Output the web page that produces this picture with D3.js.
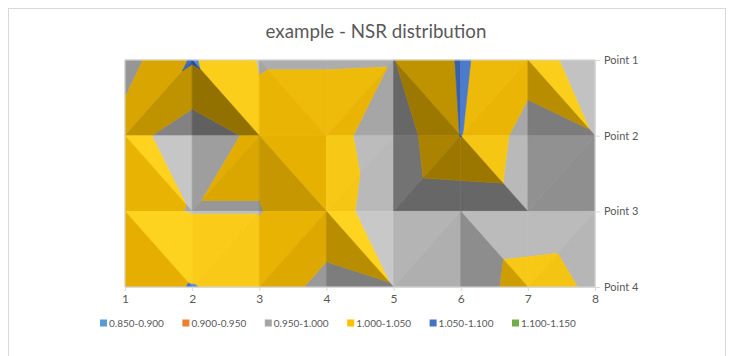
<!DOCTYPE html>
<html>
<head>
<meta charset="utf-8">
<script src="https://cdn.jsdelivr.net/npm/d3@7"></script>
<style>
  html, body { margin: 0; padding: 0; background: #fff; }
  svg { display: block; font-family: Lato, "Open Sans", "Liberation Sans", sans-serif; }
</style>
</head>
<body>
<svg id="chart" width="734" height="356"></svg>
<script>
// Surface grid: one row of NSR values per measuring point, one value per column 1..8
const columns = [1, 2, 3, 4, 5, 6, 7, 8];
const rowLabels = ["Point 1", "Point 2", "Point 3", "Point 4"];
const point1 = [0.980, 1.055, 0.997, 0.997, 0.998, 1.055, 1.022, 0.975];
const point2 = [1.020, 0.970, 1.012, 1.020, 0.970, 1.051, 0.980, 0.998];
const point3 = [1.015, 0.998, 0.998, 1.030, 0.960, 0.965, 0.970, 0.975];
const point4 = [1.030, 1.052, 1.030, 0.985, 0.998, 0.972, 1.020, 0.993];

// Colour bands of the contour legend
const bandLabels = ["0.850-0.900", "0.900-0.950", "0.950-1.000", "1.000-1.050", "1.050-1.100", "1.100-1.150"];
const bandLower = [0.85, 0.90, 0.95, 1.00, 1.05, 1.10];
const bandUpper = [0.90, 0.95, 1.00, 1.05, 1.10, 1.15];
const bandColors = ["#5B9BD5", "#ED7D31", "#A5A5A5", "#FFC000", "#4472C4", "#70AD47"];

// Lit shades of each band colour: facing away from the light, flat, facing the light
const shadeRamps = [
  ["#2E5F8F", "#5B9BD5", "#8DBBE6"],
  ["#9A4A14", "#ED7D31", "#F5A66E"],
  ["#606060", "#A0A0A0", "#C8C8C8"],
  ["#937100", "#E6AF00", "#FFD420"],
  ["#2A4A8A", "#4472C4", "#5F8FE0"],
  ["#46702A", "#70AD47", "#9ACD78"]
];

const grid = [point1, point2, point3, point4];

const svg = d3.select("#chart");

// chart area frame
svg.append("rect")
  .attr("x", 8.5).attr("y", 8.5)
  .attr("width", 717).attr("height", 400)
  .attr("fill", "#fff").attr("stroke", "#D9D9D9");

// title
const title = svg.append("text")
  .attr("x", 376).attr("y", 38)
  .attr("text-anchor", "middle")
  .attr("fill", "#595959")
  .attr("font-size", 17)
  .text("example - NSR distribution");
(function fit() {
  const target = 221;
  const len = title.node().getComputedTextLength();
  if (len > 0) title.attr("font-size", 17 * target / len);
})();

const x = d3.scaleLinear().domain([1, 8]).range([125, 595]);
const y = d3.scaleLinear().domain([0, rowLabels.length - 1]).range([60, 287]);

const line = d3.line()
  .x(p => x(p.c))
  .y(p => y(p.r))
  .curve(d3.curveLinearClosed);

// clip a polygon (in grid space, linear z) to one side of a level
function clip(poly, level, keepAbove) {
  const out = [];
  const n = poly.length;
  for (let i = 0; i < n; i++) {
    const a = poly[i], b = poly[(i + 1) % n];
    const da = keepAbove ? a.z - level : level - a.z;
    const db = keepAbove ? b.z - level : level - b.z;
    if (da >= 0) out.push(a);
    if ((da >= 0) !== (db >= 0)) {
      const t = da / (da - db);
      out.push({ c: a.c + t * (b.c - a.c), r: a.r + t * (b.r - a.r), z: a.z + t * (b.z - a.z) });
    }
  }
  return out;
}

// plane slope of a triangle: dz per column (gx) and per row (gy)
function slope(t) {
  const [p0, p1, p2] = t;
  const ax = p1.c - p0.c, ay = p1.r - p0.r, az = p1.z - p0.z;
  const bx = p2.c - p0.c, by = p2.r - p0.r, bz = p2.z - p0.z;
  const nx = ay * bz - az * by;
  const ny = az * bx - ax * bz;
  const nz = ax * by - ay * bx;
  return { gx: -nx / nz, gy: -ny / nz };
}

const shadeScales = shadeRamps.map(r =>
  d3.scaleLinear().domain([-0.8, 0, 0.55]).range(r).interpolate(d3.interpolateRgb).clamp(true));

// each grid cell is split along its higher diagonal (the ridge)
const triangles = [];
for (let r = 0; r < grid.length - 1; r++) {
  for (let ci = 0; ci < columns.length - 1; ci++) {
    const TL = { c: columns[ci], r: r, z: grid[r][ci] };
    const TR = { c: columns[ci + 1], r: r, z: grid[r][ci + 1] };
    const BL = { c: columns[ci], r: r + 1, z: grid[r + 1][ci] };
    const BR = { c: columns[ci + 1], r: r + 1, z: grid[r + 1][ci + 1] };
    if (TL.z + BR.z >= TR.z + BL.z) {
      triangles.push([TL, TR, BR]);
      triangles.push([TL, BR, BL]);
    } else {
      triangles.push([TL, TR, BL]);
      triangles.push([TR, BR, BL]);
    }
  }
}

const surface = svg.append("g").attr("class", "surface");
triangles.forEach(t => {
  const { gx, gy } = slope(t);
  const light = 6 * (-gx) + 8 * gy;
  bandLower.forEach((lo, b) => {
    let poly = clip(t, lo, true);
    if (poly.length < 3) return;
    poly = clip(poly, bandUpper[b], false);
    if (poly.length < 3) return;
    const col = shadeScales[b](light);
    surface.append("path")
      .attr("d", line(poly))
      .attr("fill", col)
      .attr("stroke", col)
      .attr("stroke-width", 0.6)
      .attr("stroke-linejoin", "round");
  });
});

// plot frame
svg.append("rect")
  .attr("x", x(1)).attr("y", y(0))
  .attr("width", x(8) - x(1)).attr("height", y(3) - y(0))
  .attr("fill", "none").attr("stroke", "#D9D9D9").attr("stroke-width", 1);

// bottom axis
const xAxis = svg.append("g")
  .attr("transform", `translate(0,${y(3)})`)
  .call(d3.axisBottom(x).tickValues(columns).tickFormat(d3.format("d"))
    .tickSize(4).tickSizeOuter(0).tickPadding(3));
xAxis.select(".domain").attr("stroke", "#D9D9D9");
xAxis.selectAll(".tick line").attr("stroke", "#D9D9D9");
xAxis.selectAll(".tick text")
  .attr("fill", "#595959").attr("font-size", 12)
  .attr("font-family", "Lato, 'Open Sans', sans-serif");

// right axis with measuring point names
const yAxis = svg.append("g")
  .attr("transform", `translate(${x(8)},0)`)
  .call(d3.axisRight(y).tickValues(d3.range(rowLabels.length)).tickFormat(i => rowLabels[i])
    .tickSize(5).tickSizeOuter(0).tickPadding(4));
yAxis.select(".domain").attr("stroke", "#D9D9D9");
yAxis.selectAll(".tick line").attr("stroke", "#D9D9D9");
yAxis.selectAll(".tick text")
  .attr("fill", "#595959").attr("font-size", 11)
  .attr("font-family", "Lato, 'Open Sans', sans-serif");

// legend
const legendX = d3.scalePoint().domain(bandLabels).range([100, 512]);
const legend = svg.append("g").attr("class", "legend");
bandLabels.forEach((lab, i) => {
  const g = legend.append("g").attr("transform", `translate(${legendX(lab)},323)`);
  g.append("rect").attr("x", 0).attr("y", -3.5).attr("width", 7).attr("height", 7)
    .attr("fill", bandColors[i]);
  g.append("text").attr("x", 9).attr("y", 0).attr("dy", "0.35em")
    .attr("fill", "#595959").attr("font-size", 10)
    .text(lab);
});
</script>
</body>
</html>
